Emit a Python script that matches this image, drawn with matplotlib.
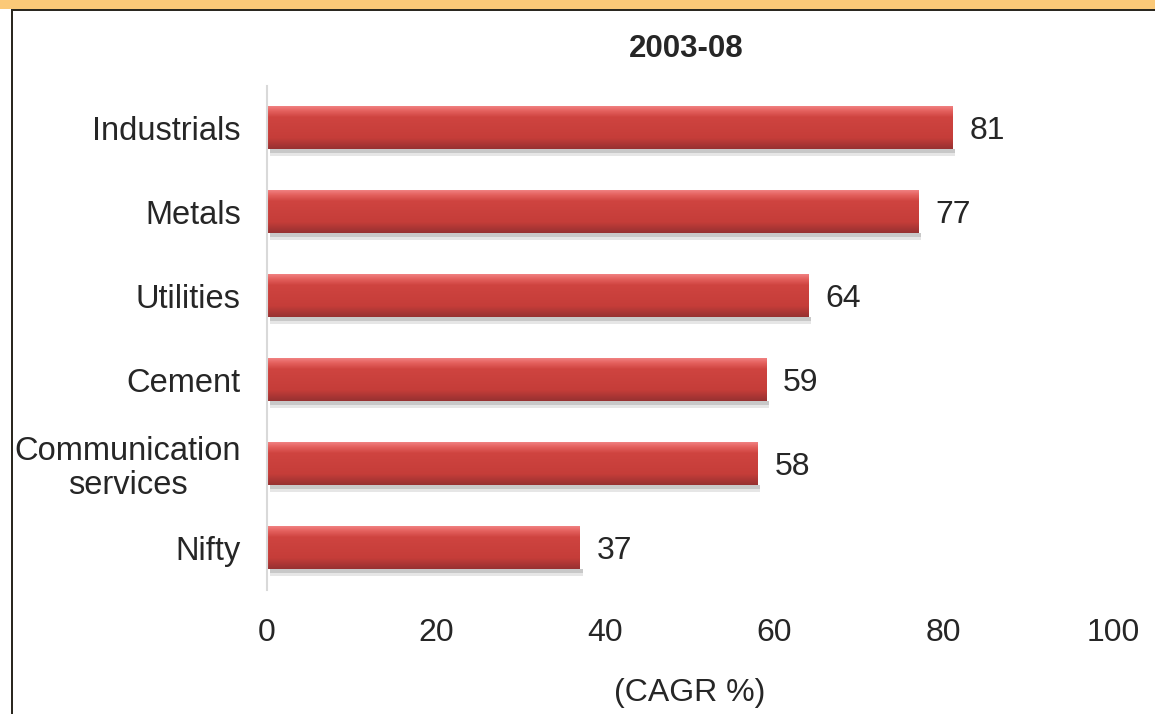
import numpy as np
import matplotlib.pyplot as plt
from matplotlib.colors import LinearSegmentedColormap
from matplotlib.patches import Rectangle

plt.rcParams['font.family'] = ['Liberation Sans', 'DejaVu Sans']

sectors = ['Nifty', 'Communication\nservices', 'Cement', 'Utilities', 'Metals', 'Industrials']
cagr = [37, 58, 59, 64, 77, 81]
xticks = [0, 20, 40, 60, 80, 100]

fig = plt.figure(figsize=(11.55, 7.14), dpi=100)
ax = fig.add_axes([0.2312, 0.1737, 0.7324, 0.7059])

# glossy red shading, top to bottom
bar_cmap = LinearSegmentedColormap.from_list(
    'gloss', [(0.0, '#f08080'), (0.1, '#e5625f'), (0.25, '#cf4440'),
              (0.75, '#c53d39'), (1.0, '#973131')])
grad = np.linspace(0, 1, 64).reshape(-1, 1)
h = 0.25
y = np.arange(len(sectors))
for yi, v in zip(y, cagr):
    # soft shadow under the bar
    ax.add_patch(Rectangle((0.3, yi - h - 0.08), v, 0.08, color='#e6e6e6', lw=0, zorder=1))
    ax.add_patch(Rectangle((0.3, yi - h - 0.045), v, 0.045, color='#c8c8c8', lw=0, zorder=1))
    ax.imshow(grad, cmap=bar_cmap, aspect='auto', extent=[0, v, yi - h, yi + h],
              origin='upper', zorder=2, interpolation='bilinear')
    ax.text(v + 2, yi, str(v), va='center_baseline', ha='left', fontsize=23, color='#262626')

ax.set_xlim(0, 100)
ax.set_ylim(-0.5, 5.5)
ax.set_xticks(xticks)
ax.set_yticks(y)
ax.set_yticklabels(sectors, ha='right', multialignment='center', linespacing=1.1)
ax.tick_params(axis='y', length=0, pad=19, labelsize=23.5, labelcolor='#262626')
ax.tick_params(axis='x', length=0, pad=20, labelsize=23, labelcolor='#262626')
for s in ['top', 'right', 'bottom']:
    ax.spines[s].set_visible(False)
ax.spines['left'].set_color('#d9d9d9')
ax.spines['left'].set_linewidth(1.5)

ax.set_xlabel('(CAGR %)', fontsize=23, color='#262626', labelpad=22)
fig.text(0.594, 0.932, '2003-08', ha='center', va='center', fontsize=22.5,
         fontweight='bold', color='#262626')

# page frame: orange band and dark rule at top, rule on the left
fig.patches.append(Rectangle((0, 0.988), 1, 0.012, transform=fig.transFigure,
                             color='#fbc978', lw=0))
fig.patches.append(Rectangle((0.0095, 0.9845), 0.9905, 0.0035, transform=fig.transFigure,
                             color='#2b2820', lw=0))
fig.patches.append(Rectangle((0.0095, 0), 0.0018, 0.988, transform=fig.transFigure,
                             color='#2b2820', lw=0))

fig.savefig('out.png', dpi=100)
